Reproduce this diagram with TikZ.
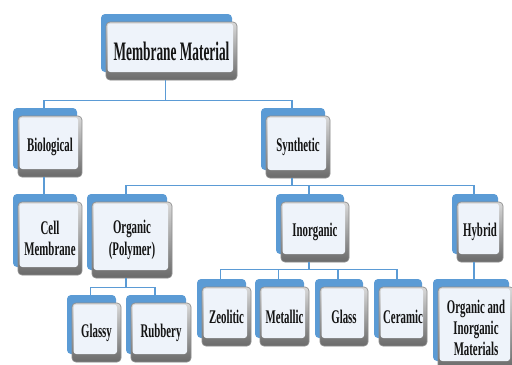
\documentclass[tikz,border=0pt]{standalone}
\usepackage{fontspec}
\usepackage{tikz}
\usetikzlibrary{shadows}
\newfontfamily\cardserif{Liberation Serif}[FakeStretch=0.56]
\newfontfamily\titleserif{Liberation Serif}[FakeStretch=0.5]
\definecolor{back}{HTML}{5B9BD5}
\definecolor{wire}{HTML}{5B9BD5}
\definecolor{face}{HTML}{EEF3FA}
\definecolor{bevtop}{HTML}{D9D9D9}
\definecolor{bevbot}{HTML}{6A6A6A}
\definecolor{edge}{HTML}{8C8C8C}
\definecolor{ink}{HTML}{141414}

\begin{document}
\begin{tikzpicture}[
  x=0.75pt,
  y=-0.75pt,
  card/.style={
    rectangle,rounded corners=3pt,inner sep=0pt,align=center,
    draw=edge,line width=0.5pt,top color=bevtop,bottom color=bevbot,
    text=ink,font=\cardserif\bfseries\fontsize{14.5}{16}\selectfont,
    copy shadow={shadow xshift=-3.75pt,shadow yshift=6pt,fill=back,draw=none},
    path picture={
      \fill[face,rounded corners=2pt]
        ([xshift=1.2pt,yshift=-1.2pt]path picture bounding box.north west)
        rectangle ([xshift=-3pt,yshift=6pt]path picture bounding box.south east);
    }
  },
  titlecard/.style={card,font=\titleserif\bfseries\fontsize{20}{22}\selectfont},
  link/.style={draw=wire,line width=1.1pt}
]
  \useasboundingbox (0,0) rectangle (512,365);

  % top level
  \node[titlecard,minimum width=98.25pt,minimum height=43.5pt] (mm) at (171.5,51) {Membrane Material};

  % second level
  \node[card,minimum width=48pt,minimum height=45.75pt] (bio) at (50,146.5) {Biological};
  \node[card,minimum width=48pt,minimum height=46.5pt] (syn) at (298,147) {Synthetic};

  % third level
  \node[card,minimum width=48pt,minimum height=54.75pt] (cell) at (50,238.5) {Cell\\Membrane};
  \node[card,minimum width=60pt,minimum height=57pt] (org) at (132,240) {Organic\\(Polymer)};
  \node[card,minimum width=51pt,minimum height=45pt] (inorg) at (315,232) {Inorganic};
  \node[card,minimum width=34.5pt,minimum height=45pt] (hyb) at (480,232) {Hybrid};

  % fourth level
  \node[card,minimum width=36.75pt,minimum height=44.25pt] (glassy) at (96.5,332.5) {Glassy};
  \node[card,minimum width=45pt,minimum height=44.25pt] (rubbery) at (161,332.5) {Rubbery};
  \node[card,minimum width=36.75pt,minimum height=44.25pt] (zeo) at (226.5,316.5) {Zeolitic};
  \node[card,minimum width=36.75pt,minimum height=44.25pt] (met) at (284.5,316.5) {Metallic};
  \node[card,minimum width=36pt,minimum height=44.25pt] (glass) at (344,316.5) {Glass};
  \node[card,minimum width=36pt,minimum height=44.25pt] (cer) at (403,316.5) {Ceramic};
  \node[card,minimum width=57pt,minimum height=61.5pt] (oim) at (476,328) {Organic and\\Inorganic\\Materials};

  % connectors
  \draw[link] ([xshift=-4.5pt]mm.south) -- ++(0,20) -| ([xshift=-4.5pt,yshift=6pt]bio.north);
  \draw[link] ([xshift=-4.5pt]mm.south) -- ++(0,20) -| ([xshift=-4.5pt,yshift=6pt]syn.north);
  \draw[link] ([xshift=-4.5pt]bio.south) -- ([xshift=-4.5pt,yshift=6pt]cell.north);
  \draw[link] ([xshift=-4.5pt]syn.south) -- ++(0,7) -| ([xshift=-4.5pt,yshift=6pt]org.north);
  \draw[link] ([xshift=-4.5pt]syn.south) -- ++(0,7) -| ([xshift=-4.5pt,yshift=6pt]inorg.north);
  \draw[link] ([xshift=-4.5pt]syn.south) -- ++(0,7) -| ([xshift=-4.5pt,yshift=6pt]hyb.north);
  \draw[link] ([xshift=-4.5pt]org.south) -- ++(0,9) -| ([xshift=-4.5pt,yshift=6pt]glassy.north);
  \draw[link] ([xshift=-4.5pt]org.south) -- ++(0,9) -| ([xshift=-4.5pt,yshift=6pt]rubbery.north);
  \draw[link] ([xshift=-4.5pt]inorg.south) -- ++(0,7) -| ([xshift=-4.5pt,yshift=6pt]zeo.north);
  \draw[link] ([xshift=-4.5pt]inorg.south) -- ++(0,7) -| ([xshift=-4.5pt,yshift=6pt]met.north);
  \draw[link] ([xshift=-4.5pt]inorg.south) -- ++(0,7) -| ([xshift=-4.5pt,yshift=6pt]glass.north);
  \draw[link] ([xshift=-4.5pt]inorg.south) -- ++(0,7) -| ([xshift=-4.5pt,yshift=6pt]cer.north);
  \draw[link] ([xshift=-4.5pt]hyb.south) -- ([xshift=-4.5pt,yshift=6pt]hyb.south |- oim.north);
\end{tikzpicture}
\end{document}
